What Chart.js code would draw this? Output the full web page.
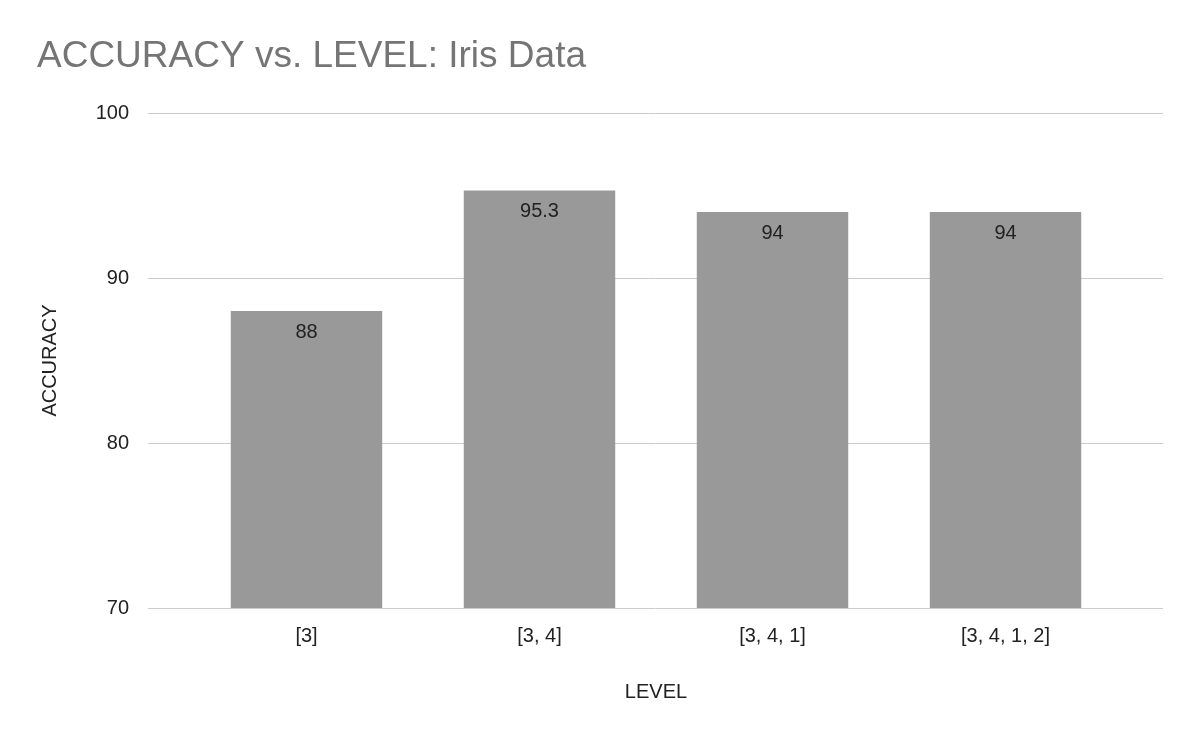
<!DOCTYPE html>
<html>
<head>
<meta charset="utf-8">
<script src="https://cdn.jsdelivr.net/npm/chart.js@4"></script>
<style>
  body { margin: 0; background: #fff; }
  #wrap { width: 1200px; height: 742px; }
</style>
</head>
<body>
<div id="wrap"><canvas id="chart"></canvas></div>
<script>
const levels = ['[3]', '[3, 4]', '[3, 4, 1]', '[3, 4, 1, 2]'];
const accuracy = [88, 95.3, 94, 94];
const yTicks = [70, 80, 90, 100];

const FONT = "'Liberation Sans', Arial, sans-serif";

// gridlines wider than the category area, like the original
const gridLines = {
    id: 'gridLines',
    beforeDatasetsDraw(chart) {
        const ctx = chart.ctx;
        const y = chart.scales.y;
        ctx.save();
        ctx.strokeStyle = '#cccccc';
        ctx.lineWidth = 1;
        yTicks.forEach(v => {
            const py = Math.round(y.getPixelForValue(v)) + 0.5;
            ctx.beginPath();
            ctx.moveTo(148, py);
            ctx.lineTo(1163, py);
            ctx.stroke();
        });
        ctx.restore();
    }
};

// title and bar value labels drawn on the canvas
const extras = {
    id: 'extras',
    afterDatasetsDraw(chart) {
        const ctx = chart.ctx;
        ctx.save();
        ctx.fillStyle = '#757575';
        ctx.font = '37px ' + FONT;
        ctx.textAlign = 'left';
        ctx.textBaseline = 'middle';
        ctx.fillText('ACCURACY vs. LEVEL: Iris Data', 37, 57);

        ctx.fillStyle = '#222';
        ctx.font = '20px ' + FONT;
        ctx.textAlign = 'center';
        chart.getDatasetMeta(0).data.forEach((bar, i) => {
            ctx.fillText(String(accuracy[i]), bar.x, bar.y + 21);
        });
        ctx.restore();
    }
};

new Chart(document.getElementById('chart'), {
    type: 'bar',
    data: {
        labels: levels,
        datasets: [{
            data: accuracy,
            backgroundColor: '#999999',
            categoryPercentage: 1,
            barPercentage: 0.65
        }]
    },
    options: {
        responsive: true,
        maintainAspectRatio: false,
        animation: false,
        layout: { padding: { top: 113, right: 78, left: 0, bottom: 0 } },
        plugins: { legend: { display: false }, tooltip: { enabled: false } },
        scales: {
            x: {
                grid: { display: false },
                border: { display: false },
                ticks: { color: '#222', font: { family: FONT, size: 20 }, padding: 8 },
                title: { display: true, text: 'LEVEL', color: '#222', font: { family: FONT, size: 20 }, padding: { bottom: 38 } },
                afterFit(scale) { scale.height = 134; }
            },
            y: {
                min: 70,
                max: 100,
                afterBuildTicks(scale) { scale.ticks = yTicks.map(v => ({ value: v })); },
                grid: { display: false },
                border: { display: false },
                ticks: { color: '#222', font: { family: FONT, size: 20 }, padding: 53 },
                title: { display: true, text: 'ACCURACY', color: '#222', font: { family: FONT, size: 20 }, padding: { top: 38, bottom: 0 } },
                afterFit(scale) { scale.width = 190; }
            }
        }
    },
    plugins: [gridLines, extras]
});
</script>
</body>
</html>
